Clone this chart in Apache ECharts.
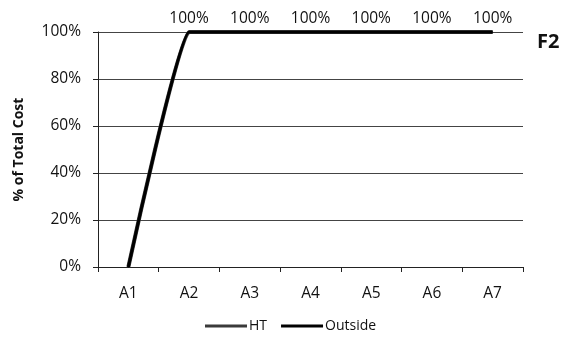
<!DOCTYPE html>
<html>
<head>
<meta charset="utf-8">
<script src="https://cdn.jsdelivr.net/npm/echarts@6/dist/echarts.min.js"></script>
<style>
  html, body { margin: 0; padding: 0; background: #fff; }
  #chart { width: 569px; height: 344px; }
</style>
</head>
<body>
<div id="chart"></div>
<script>
// Cumulative share of total cost by stage
const categories = ['A1', 'A2', 'A3', 'A4', 'A5', 'A6', 'A7'];
const htValues = [0, 1, 1, 1, 1, 1, 1];
const outsideValues = [0, 1, 1, 1, 1, 1, 1];
const yTicks = [0, 0.2, 0.4, 0.6, 0.8, 1];

const font = '"Open Sans", Lato, sans-serif';
const pct = v => Math.round(v * 100) + '%';

const chart = echarts.init(document.getElementById('chart'), null, { renderer: 'canvas' });
chart.setOption({
  animation: false,
  backgroundColor: '#fff',
  textStyle: { fontFamily: font },
  grid: { left: 98, right: 46, top: 32, bottom: 77 },
  graphic: [{
    type: 'text', left: 537, top: 32,
    style: { text: 'F2', font: 'bold 20px ' + font, fill: '#111' }
  }],
  legend: {
    top: 314, left: 200,
    itemWidth: 42, itemHeight: 3, itemGap: 14,
    textStyle: { fontFamily: font, fontSize: 14, color: '#111', padding: [0, 0, 0, -3] },
    data: [
      { name: 'HT', icon: 'rect' },
      { name: 'Outside', icon: 'rect' }
    ]
  },
  xAxis: {
    type: 'category',
    data: categories,
    boundaryGap: true,
    axisLine: { lineStyle: { color: '#222', width: 1 } },
    axisTick: { show: true, alignWithLabel: false, length: 5, lineStyle: { color: '#222' } },
    axisLabel: { color: '#111', fontSize: 15.5, fontFamily: font, margin: 19 }
  },
  yAxis: {
    type: 'value',
    min: 0, max: 1, interval: 0.2,
    name: '% of Total Cost',
    nameLocation: 'middle',
    nameGap: 72,
    nameTextStyle: { fontWeight: 'bold', fontSize: 14, color: '#111', fontFamily: font },
    axisLine: { show: true, lineStyle: { color: '#222', width: 1 } },
    axisTick: { show: true, inside: false, length: 5, lineStyle: { color: '#222' } },
    axisLabel: {
      color: '#111', fontSize: 15.5, fontFamily: font, margin: 17,
      formatter: v => yTicks.some(t => Math.abs(t - v) < 1e-9) ? pct(v) : ''
    },
    splitLine: { lineStyle: { color: '#444', width: 1 } }
  },
  series: [
    {
      name: 'HT',
      type: 'line',
      data: htValues,
      smooth: 0.1,
      symbol: 'none',
      color: '#3a3a3a',
      lineStyle: { color: '#3a3a3a', width: 4 },
      z: 3
    },
    {
      name: 'Outside',
      type: 'line',
      data: outsideValues,
      smooth: 0.1,
      symbol: 'circle',
      symbolSize: 1,
      showSymbol: true,
      color: '#000',
      itemStyle: { color: '#000' },
      lineStyle: { color: '#000', width: 3 },
      z: 4,
      label: {
        show: true,
        position: 'top',
        distance: 5,
        fontFamily: font,
        fontSize: 15.5,
        color: '#111',
        formatter: p => p.dataIndex === 0 ? '' : pct(p.value)
      }
    }
  ]
});
</script>
</body>
</html>
